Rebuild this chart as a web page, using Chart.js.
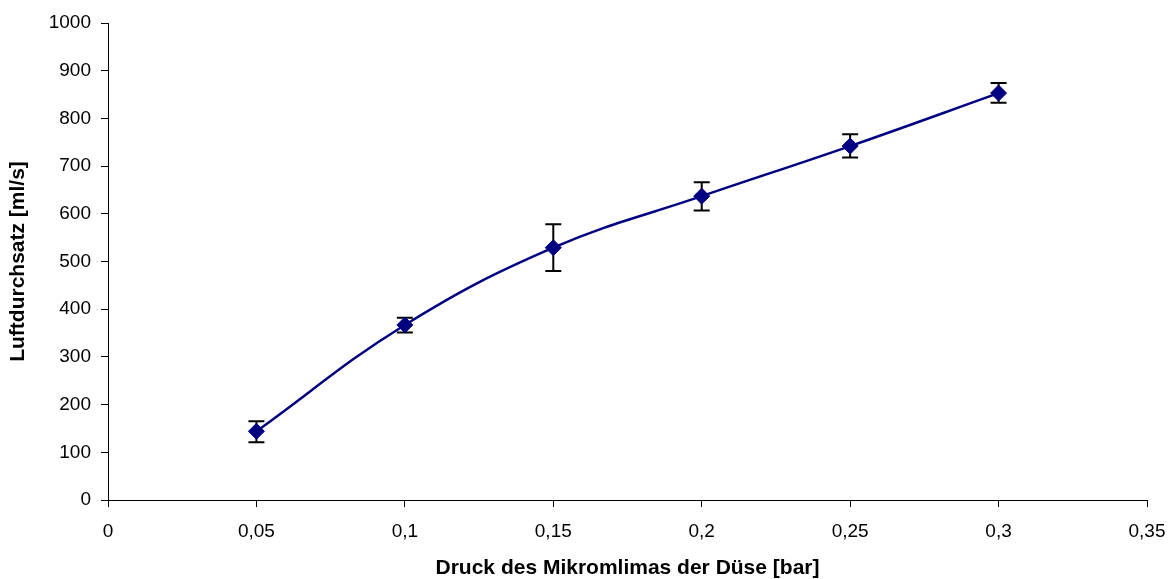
<!DOCTYPE html>
<html>
<head>
<meta charset="utf-8">
<script src="https://cdn.jsdelivr.net/npm/chart.js@4"></script>
<style>
  html, body { margin: 0; padding: 0; background: #fff; }
  #wrap { width: 1173px; height: 579px; }
</style>
</head>
<body>
<div id="wrap"><canvas id="luftChart" width="1173" height="579"></canvas></div>
<script>
// Messwerte: Druck [bar] -> Luftdurchsatz [ml/s]
const druck = [0.05, 0.1, 0.15, 0.2, 0.25, 0.3];
const durchsatz = [144, 367, 529, 637, 742, 853];
const fehlerOben = [165, 382, 578, 666, 767, 874];
const fehlerUnten = [121, 351, 480, 607, 718, 833];

const points = druck.map((x, i) => ({ x: x, y: durchsatz[i] }));

// Fehlerbalken über die Skalen zeichnen
const errorBars = {
    id: 'errorBars',
    beforeDatasetsDraw(chart) {
        const ctx = chart.ctx;
        const xs = chart.scales.x;
        const ys = chart.scales.y;
        ctx.save();
        ctx.strokeStyle = '#000';
        ctx.lineWidth = 2;
        druck.forEach((d, i) => {
            const px = xs.getPixelForValue(d);
            const top = ys.getPixelForValue(fehlerOben[i]);
            const bot = ys.getPixelForValue(fehlerUnten[i]);
            ctx.beginPath();
            ctx.moveTo(px, top);
            ctx.lineTo(px, bot);
            ctx.moveTo(px - 8, top);
            ctx.lineTo(px + 8, top);
            ctx.moveTo(px - 8, bot);
            ctx.lineTo(px + 8, bot);
            ctx.stroke();
        });
        ctx.restore();
    }
};

const font = { family: '"Liberation Sans", Arial, sans-serif', size: 19 };
const titleFont = { family: '"Liberation Sans", Arial, sans-serif', size: 21, weight: 'bold', lineHeight: 1 };

new Chart(document.getElementById('luftChart'), {
    type: 'scatter',
    data: {
        datasets: [{
            data: points,
            showLine: true,
            borderColor: '#000080',
            borderWidth: 2.5,
            tension: 0.4,
            pointStyle: 'rectRot',
            pointRadius: 8,
            pointBackgroundColor: '#000080',
            pointBorderColor: '#000080',
            pointBorderWidth: 1
        }]
    },
    options: {
        responsive: false,
        animation: false,
        events: [],
        layout: { padding: { top: 23, right: 26, left: 0, bottom: 0 } },
        plugins: {
            legend: { display: false },
            tooltip: { enabled: false }
        },
        scales: {
            x: {
                type: 'linear',
                min: 0,
                max: 0.35,
                afterFit(scale) {
                    scale.height = 79;
                    scale.paddingLeft = 0;
                    scale.paddingRight = 0;
                },
                ticks: {
                    stepSize: 0.05,
                    color: '#000',
                    font: font,
                    padding: 13,
                    maxRotation: 0,
                    callback: v => String(Math.round(v * 100) / 100).replace('.', ',')
                },
                grid: { drawOnChartArea: false, tickLength: 7, color: '#000' },
                border: { color: '#000', width: 1 },
                title: {
                    display: true,
                    text: 'Druck des Mikromlimas der Düse [bar]',
                    color: '#000',
                    font: titleFont,
                    padding: { top: 0, bottom: 0 }
                }
            },
            y: {
                min: 0,
                max: 1000,
                afterFit(scale) { scale.width = 108; },
                ticks: {
                    stepSize: 100,
                    color: '#000',
                    font: font,
                    padding: 10,
                    callback: v => String(v)
                },
                grid: { drawOnChartArea: false, tickLength: 7, color: '#000' },
                border: { color: '#000', width: 1 },
                title: {
                    display: true,
                    text: 'Luftdurchsatz [ml/s]',
                    color: '#000',
                    font: titleFont,
                    padding: { top: 8, bottom: 0 }
                }
            }
        }
    },
    plugins: [errorBars]
});
</script>
</body>
</html>
